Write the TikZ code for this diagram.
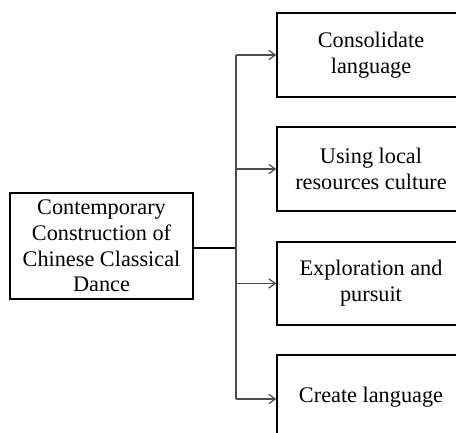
\documentclass[tikz,border=0pt]{standalone}
\usepackage{fontspec}
\setmainfont{Liberation Serif}
\usetikzlibrary{arrows.meta}
\begin{document}
\begin{tikzpicture}[x=0.75pt, y=-0.75pt,
        box/.style={draw, line width=0.9pt, align=center, inner sep=0pt,
            font=\fontsize{16.7}{19.3}\selectfont},
        link/.style={draw=black!70, line width=0.9pt},
        arr/.style={link, -{Straight Barb[length=5pt, width=7pt, line width=0.9pt]}}]
        \useasboundingbox (0, 0) rectangle (456, 432);

        \node[box, minimum width=137.25pt, minimum height=79.5pt] (dance) at (101.5, 246) {Contemporary\\Construction of\\Chinese Classical\\Dance};

        \node[box, minimum width=141pt, minimum height=63pt] (consolidate) at (371, 55) {Consolidate\\language};
        \node[box, minimum width=141pt, minimum height=63pt] (local) at (371, 169) {Using local\\resources culture};
        \node[box, minimum width=141pt, minimum height=62.25pt] (explore) at (371, 283.5) {Exploration and\\pursuit};
        \node[box, minimum width=141pt, minimum height=63pt] (create) at (371, 397) {Create language};

        \coordinate (j0) at (236, 248);
        \coordinate (j1) at (236, 55);
        \coordinate (j4) at (236, 399);

        \draw[link, draw=black] (dance.east |- j0) -- (j0);
        \draw[link] (j1) -- (j4);
        \draw[arr] (j1) -- (consolidate.west |- j1);
        \draw[arr] (236, 169) -- (local.west);
        \draw[arr] (236, 283.5) -- (explore.west);
        \draw[arr] (j4) -- (create.west |- j4);
    \end{tikzpicture}
\end{document}
